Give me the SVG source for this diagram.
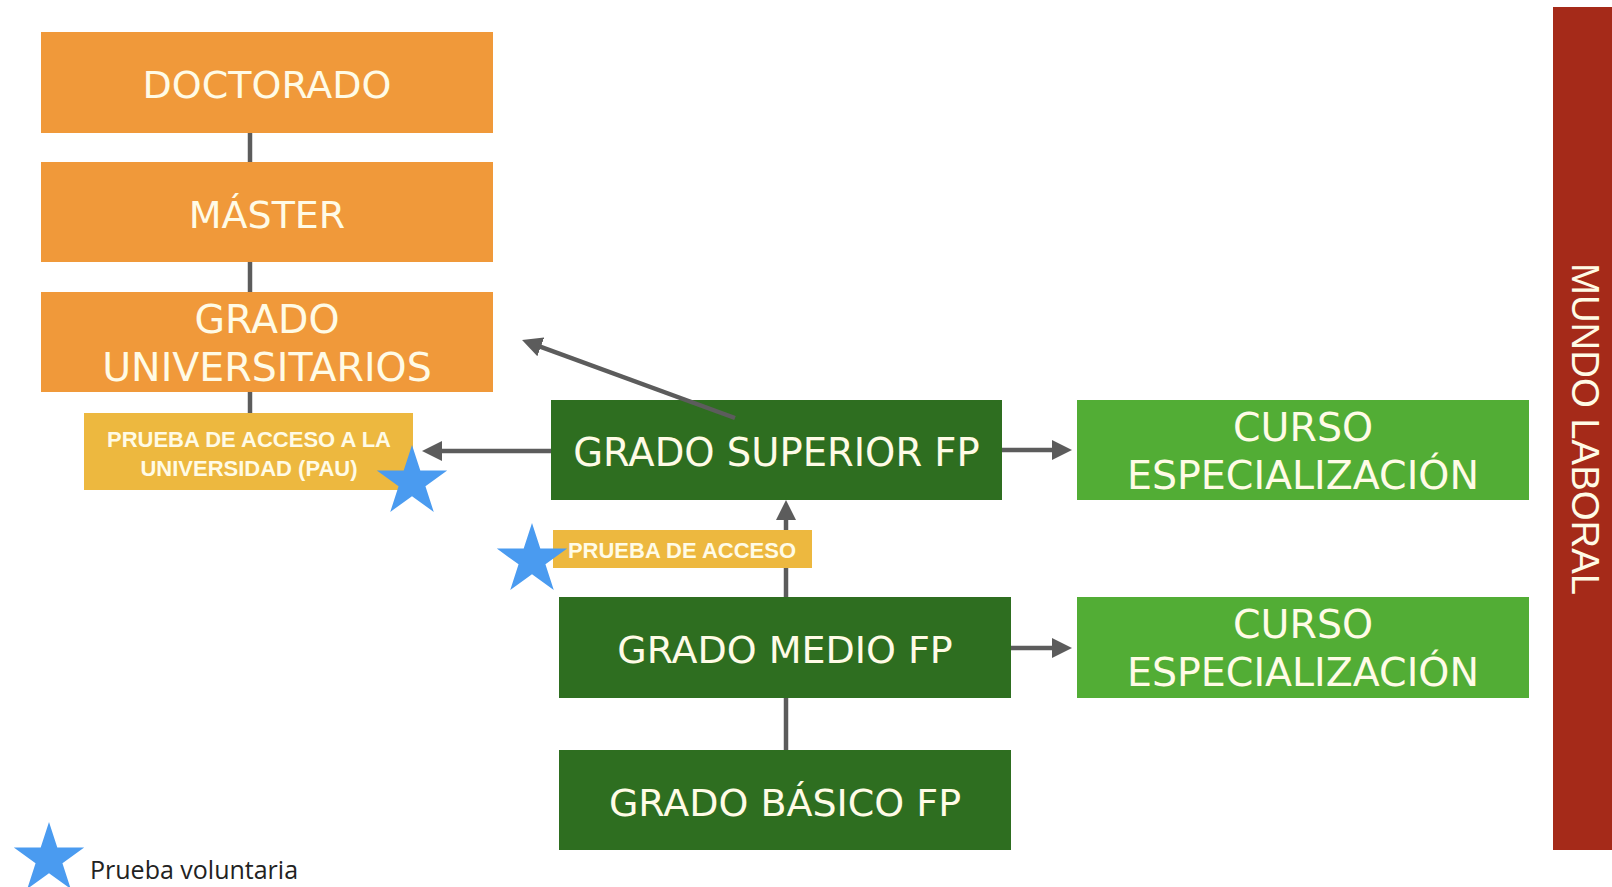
<svg xmlns="http://www.w3.org/2000/svg" width="1612" height="887" viewBox="0 0 1612 887">
<style>
.box text{font-family:"DejaVu Sans","Verdana",sans-serif;font-size:38px;fill:#FFFBE6;text-anchor:middle}
.box text.big{font-size:39.5px}
.orange{fill:#F0993A}
.dgreen{fill:#2E6E20}
.lgreen{fill:#52AD35}
.yellow{fill:#EDB83F}
.lbl{font-family:"Liberation Sans",Arial,sans-serif;font-weight:bold;font-size:22px;fill:#FFFBE6;text-anchor:middle}
.conn{stroke:#5C5C5C;stroke-width:4.5;fill:none}
.star{fill:#4A9BF0}
</style>
<defs>
<marker id="arr" viewBox="0 0 20 20" refX="8" refY="10" markerWidth="20" markerHeight="20" markerUnits="userSpaceOnUse" orient="auto">
<path d="M0,0 L20,10 L0,20 Z" fill="#5C5C5C"/>
</marker>
<path id="starShape" d="M0,-37 L8.31,-11.43 L35.19,-11.43 L13.44,4.37 L21.75,29.93 L0,14.13 L-21.75,29.93 L-13.44,4.37 L-35.19,-11.43 L-8.31,-11.43 Z"/>
</defs>
<rect width="1612" height="887" fill="#FFFFFF"/>

<g id="doctorado" class="box">
<rect class="orange" x="41" y="32" width="452" height="101"/>
<text x="267" y="98">DOCTORADO</text>
</g>
<g id="master" class="box">
<rect class="orange" x="41" y="162" width="452" height="100"/>
<text x="267" y="228">MÁSTER</text>
</g>
<g id="grado-universitarios" class="box">
<rect class="orange" x="41" y="292" width="452" height="100"/>
<text class="big" x="267" y="333">GRADO</text>
<text class="big" x="267" y="381">UNIVERSITARIOS</text>
</g>
<g id="grado-superior" class="box">
<rect class="dgreen" x="551" y="400" width="451" height="100"/>
<text x="776.5" y="466" style="font-size:38.5px">GRADO SUPERIOR FP</text>
</g>
<g id="curso-1" class="box">
<rect class="lgreen" x="1077" y="400" width="452" height="100"/>
<text class="big" x="1303" y="441">CURSO</text>
<text class="big" x="1303" y="489">ESPECIALIZACIÓN</text>
</g>
<g id="grado-medio" class="box">
<rect class="dgreen" x="559" y="597" width="452" height="101"/>
<text x="785" y="663">GRADO MEDIO FP</text>
</g>
<g id="curso-2" class="box">
<rect class="lgreen" x="1077" y="597" width="452" height="101"/>
<text class="big" x="1303" y="638">CURSO</text>
<text class="big" x="1303" y="686">ESPECIALIZACIÓN</text>
</g>
<g id="grado-basico" class="box">
<rect class="dgreen" x="559" y="750" width="452" height="100"/>
<text x="785" y="816">GRADO BÁSICO FP</text>
</g>
<g id="mundo-laboral">
<rect x="1553" y="7" width="59" height="843" fill="#A52A19"/>
<text transform="translate(1572,263) rotate(90)" x="0" y="0" font-family="Liberation Sans, Arial, sans-serif" font-size="38" fill="#FFFBE6" textLength="332" lengthAdjust="spacingAndGlyphs">MUNDO LABORAL</text>
</g>

<g id="connectors">
<line class="conn" x1="250" y1="133" x2="250" y2="162"/>
<line class="conn" x1="250" y1="262" x2="250" y2="292"/>
<line class="conn" x1="250" y1="392" x2="250" y2="413"/>
<line class="conn" x1="551" y1="451" x2="434" y2="451" marker-end="url(#arr)"/>
<line class="conn" x1="735" y1="418" x2="533.3" y2="344.1" marker-end="url(#arr)"/>
<line class="conn" x1="1002" y1="450" x2="1060" y2="450" marker-end="url(#arr)"/>
<line class="conn" x1="1011" y1="648" x2="1060" y2="648" marker-end="url(#arr)"/>
<line class="conn" x1="786" y1="597" x2="786" y2="512" marker-end="url(#arr)"/>
<line class="conn" x1="786" y1="698" x2="786" y2="750"/>
</g>

<g id="pau">
<rect class="yellow" x="84" y="413" width="329" height="77"/>
<text class="lbl" x="249" y="447">PRUEBA DE ACCESO A LA</text>
<text class="lbl" x="249" y="476">UNIVERSIDAD (PAU)</text>
</g>
<g id="prueba-acceso">
<rect class="yellow" x="553" y="530" width="259" height="38"/>
<text class="lbl" x="682" y="558">PRUEBA DE ACCESO</text>
</g>

<g id="stars">
<use href="#starShape" class="star" x="412" y="482"/>
<use href="#starShape" class="star" x="532" y="560"/>
</g>

<g id="legend">
<use href="#starShape" class="star" x="49" y="859"/>
<text x="90" y="879" font-family="Open Sans, Liberation Sans, sans-serif" font-size="25" fill="#222222">Prueba voluntaria</text>
</g>
</svg>
